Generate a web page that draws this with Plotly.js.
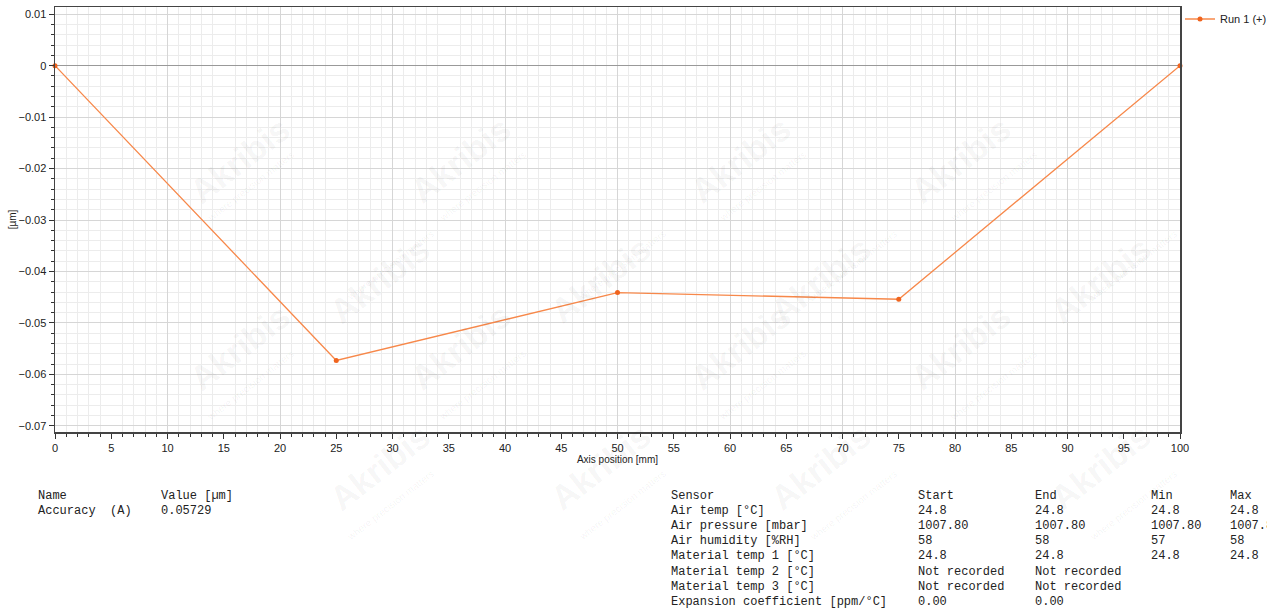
<!DOCTYPE html>
<html>
<head>
<meta charset="utf-8">
<script src="https://cdn.plot.ly/plotly-3.0.1.min.js"></script>
<style>
html,body{margin:0;padding:0;background:#fff;}
#chart{width:1267px;height:614px;}
</style>
</head>
<body>
<div id="chart"></div>
<script>
// ---- data ----
const positions = [0, 25, 50, 75, 100];
const deviations = [0, -0.0573, -0.0441, -0.0454, 0];
const seriesName = "Run 1 (+)";

const resultHeaders = ["Name", "Value [µm]"];
const resultNames = ["Accuracy  (A)"];
const resultValues = ["0.05729"];

const sensorHeaders = ["Sensor", "Start", "End", "Min", "Max"];
const sensorNames = ["Air temp [°C]", "Air pressure [mbar]", "Air humidity [%RH]",
  "Material temp 1 [°C]", "Material temp 2 [°C]", "Material temp 3 [°C]",
  "Expansion coefficient [ppm/°C]"];
const sensorStart = ["24.8", "1007.80", "58", "24.8", "Not recorded", "Not recorded", "0.00"];
const sensorEnd = ["24.8", "1007.80", "58", "24.8", "Not recorded", "Not recorded", "0.00"];
const sensorMin = ["24.8", "1007.80", "57", "24.8", "", "", ""];
const sensorMax = ["24.8", "1007.80", "58", "24.8", "", "", ""];

// ---- layout helpers ----
const W = 1267, H = 614;
const M = {l: 55, r: 87, t: 7, b: 182, autoexpand: false};
const PW = W - M.l - M.r, PH = H - M.t - M.b;
const px = x => (x - M.l) / PW;
const py = y => (H - M.b - y) / PH;

const mono = {family: "Liberation Mono, DejaVu Sans Mono, monospace", size: 12, color: "#222"};
const ann = [];
function cell(text, x, y) {
  ann.push({text: text, xref: "paper", yref: "paper", x: px(x), y: py(y),
    xanchor: "left", yanchor: "middle", showarrow: false, font: mono});
}
const rowH = 15.1;
const row0 = 496;
// results table
cell(resultHeaders[0], 36, row0);
cell(resultHeaders[1], 159, row0);
resultNames.forEach((n, i) => { cell(n, 36, row0 + rowH * (i + 1)); cell(resultValues[i], 159, row0 + rowH * (i + 1)); });
// sensor table
const colX = [669, 916, 1033, 1149, 1228];
sensorHeaders.forEach((h, j) => cell(h, colX[j], row0));
const cols = [sensorNames, sensorStart, sensorEnd, sensorMin, sensorMax];
cols.forEach((col, j) => col.forEach((v, i) => { if (v) cell(v, colX[j], row0 + rowH * (i + 1)); }));

// faint watermark (kept fully inside the picture)
const wm = [];
for (let r = 0; r < 6; r++) {
  for (let c = 0; c < 6; c++) {
    const x = 40 + c * 280 + (r % 2) * 140;
    const y = 40 + r * 120;
    if (x < 90 || x > 1170 || y < 60 || y > 560) continue;
    wm.push({text: "<b>Akribis</b>", xref: "paper", yref: "paper", x: px(x), y: py(y),
      textangle: -38, showarrow: false, font: {family: "Liberation Sans, Arial", size: 34, color: "rgba(0,0,0,0.05)"}});
    wm.push({text: "where precision matters", xref: "paper", yref: "paper", x: px(x + 22), y: py(y + 26),
      textangle: -38, showarrow: false, font: {family: "Liberation Sans, Arial", size: 10, color: "rgba(0,0,0,0.05)"}});
  }
}

const tickFont = {family: "Liberation Sans, Arial, sans-serif", size: 11, color: "#222"};

const trace = {
  x: positions, y: deviations, type: "scatter", mode: "lines+markers", name: seriesName,
  line: {color: "#f7884a", width: 1.3},
  marker: {color: "#f0641e", size: 5},
  cliponaxis: false
};
const gridTrace = {x: [0, 100], y: [0, 0], xaxis: "x2", yaxis: "y", mode: "lines",
  line: {width: 0}, hoverinfo: "skip", showlegend: false};

const layout = {
  width: W, height: H,
  margin: M,
  paper_bgcolor: "#fff", plot_bgcolor: "#fff",
  showlegend: true,
  legend: {x: px(1180), y: py(19), xanchor: "left", yanchor: "middle", itemwidth: 30,
    font: {family: "Liberation Sans, Arial", size: 11, color: "#222"}, bgcolor: "rgba(0,0,0,0)"},
  xaxis: {
    range: [0, 100], dtick: 5, tick0: 0, showgrid: false, zeroline: false,
    ticks: "outside", ticklen: 5, tickcolor: "#333", tickfont: tickFont,
    showline: true, linecolor: "#444", linewidth: 1.5, mirror: true,
    minor: {dtick: 1, ticks: "outside", ticklen: 3, tickcolor: "#333", showgrid: true, gridcolor: "#ececec", gridwidth: 1},
    title: {text: "Axis position [mm]", font: {family: "Liberation Sans, Arial", size: 10, color: "#222"}, standoff: 3}
  },
  xaxis2: {
    range: [0, 100], dtick: 10, tick0: 0, overlaying: "x", showgrid: true, gridcolor: "#d6d6d6",
    showticklabels: false, ticks: "", zeroline: false, showline: false, layer: "below traces"
  },
  yaxis: {
    range: [-0.0712, 0.0114], dtick: 0.01, tick0: 0, showgrid: true, gridcolor: "#d6d6d6",
    zeroline: true, zerolinecolor: "#999", zerolinewidth: 1,
    ticks: "outside", ticklen: 5, tickcolor: "#333", tickfont: tickFont,
    showline: true, linecolor: "#444", linewidth: 1.5, mirror: true,
    minor: {dtick: 0.002, ticks: "outside", ticklen: 3, tickcolor: "#333", showgrid: true, gridcolor: "#ececec", gridwidth: 1},
    title: {text: "[µm]", font: {family: "Liberation Sans, Arial", size: 10, color: "#222"}, standoff: 0}
  },
  annotations: wm.concat(ann)
};

Plotly.newPlot("chart", [gridTrace, trace], layout, {displayModeBar: false, staticPlot: true});
</script>
</body>
</html>
